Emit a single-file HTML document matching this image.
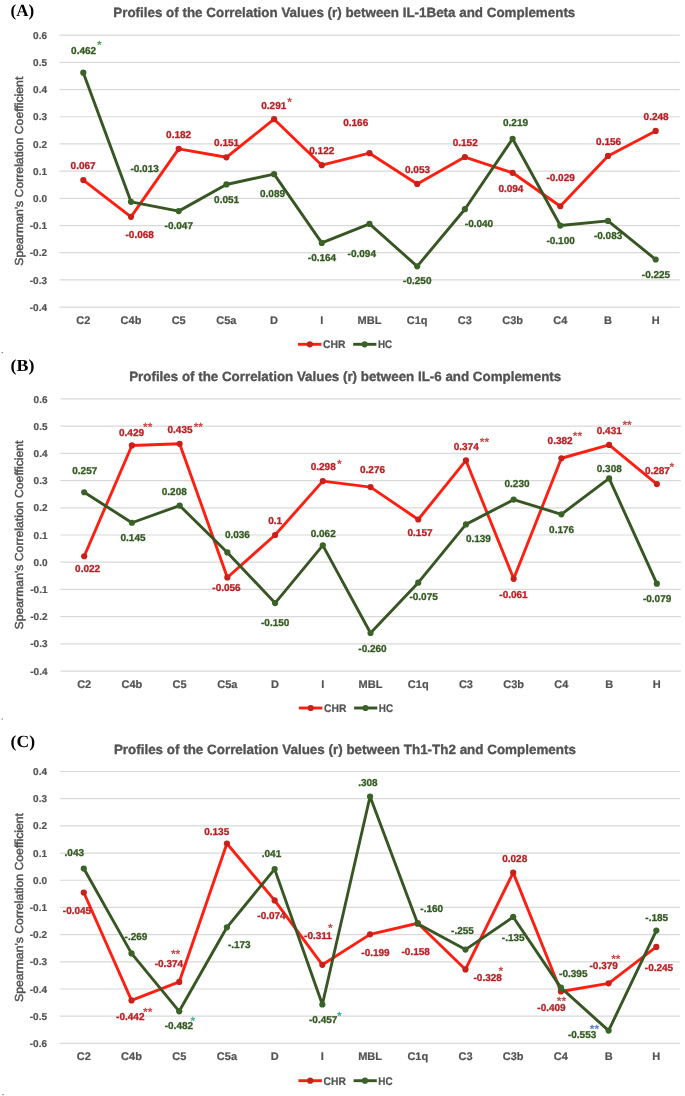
<!DOCTYPE html>
<html><head><meta charset="utf-8"><style>
html,body{margin:0;padding:0;background:#fff;}
svg{display:block;will-change:transform;}
text{font-family:"Liberation Sans",sans-serif;text-rendering:geometricPrecision;}
text.serif{font-family:"Liberation Serif",serif;}
</style></head><body>
<svg width="685" height="1096" viewBox="0 0 685 1096">
<rect width="685" height="1096" fill="#fff"/>
<text x="10.6" y="15.8" class="serif" font-weight="bold" font-size="17" fill="#000">(A)</text>
<text x="113.3" y="17.4" font-size="13.4" font-weight="bold" fill="#535353" stroke="#535353" stroke-width="0.35" textLength="462" lengthAdjust="spacingAndGlyphs">Profiles of the Correlation Values (r) between IL-1Beta and Complements</text>
<line x1="59.5" x2="679.8" y1="35.20" y2="35.20" stroke="#D9D9D9" stroke-width="1.2"/>
<text x="47" y="38.80" font-size="10" font-weight="bold" fill="#535353" stroke="#535353" stroke-width="0.2" text-anchor="end">0.6</text>
<line x1="59.5" x2="679.8" y1="62.39" y2="62.39" stroke="#D9D9D9" stroke-width="1.2"/>
<text x="47" y="65.99" font-size="10" font-weight="bold" fill="#535353" stroke="#535353" stroke-width="0.2" text-anchor="end">0.5</text>
<line x1="59.5" x2="679.8" y1="89.58" y2="89.58" stroke="#D9D9D9" stroke-width="1.2"/>
<text x="47" y="93.18" font-size="10" font-weight="bold" fill="#535353" stroke="#535353" stroke-width="0.2" text-anchor="end">0.4</text>
<line x1="59.5" x2="679.8" y1="116.77" y2="116.77" stroke="#D9D9D9" stroke-width="1.2"/>
<text x="47" y="120.37" font-size="10" font-weight="bold" fill="#535353" stroke="#535353" stroke-width="0.2" text-anchor="end">0.3</text>
<line x1="59.5" x2="679.8" y1="143.96" y2="143.96" stroke="#D9D9D9" stroke-width="1.2"/>
<text x="47" y="147.56" font-size="10" font-weight="bold" fill="#535353" stroke="#535353" stroke-width="0.2" text-anchor="end">0.2</text>
<line x1="59.5" x2="679.8" y1="171.15" y2="171.15" stroke="#D9D9D9" stroke-width="1.2"/>
<text x="47" y="174.75" font-size="10" font-weight="bold" fill="#535353" stroke="#535353" stroke-width="0.2" text-anchor="end">0.1</text>
<line x1="59.5" x2="679.8" y1="198.34" y2="198.34" stroke="#D9D9D9" stroke-width="1.2"/>
<text x="47" y="201.94" font-size="10" font-weight="bold" fill="#535353" stroke="#535353" stroke-width="0.2" text-anchor="end">0.0</text>
<line x1="59.5" x2="679.8" y1="225.53" y2="225.53" stroke="#D9D9D9" stroke-width="1.2"/>
<text x="47" y="229.13" font-size="10" font-weight="bold" fill="#535353" stroke="#535353" stroke-width="0.2" text-anchor="end">-0.1</text>
<line x1="59.5" x2="679.8" y1="252.72" y2="252.72" stroke="#D9D9D9" stroke-width="1.2"/>
<text x="47" y="256.32" font-size="10" font-weight="bold" fill="#535353" stroke="#535353" stroke-width="0.2" text-anchor="end">-0.2</text>
<line x1="59.5" x2="679.8" y1="279.91" y2="279.91" stroke="#D9D9D9" stroke-width="1.2"/>
<text x="47" y="283.51" font-size="10" font-weight="bold" fill="#535353" stroke="#535353" stroke-width="0.2" text-anchor="end">-0.3</text>
<line x1="59.5" x2="679.8" y1="307.10" y2="307.10" stroke="#D9D9D9" stroke-width="1.2"/>
<text x="47" y="310.70" font-size="10" font-weight="bold" fill="#535353" stroke="#535353" stroke-width="0.2" text-anchor="end">-0.4</text>
<text transform="translate(22.7,171.2) rotate(-90)" font-size="11.6" fill="#535353" stroke="#535353" stroke-width="0.45" text-anchor="middle" textLength="189" lengthAdjust="spacingAndGlyphs">Spearman's Correlation Coefficient</text>
<text x="83.30" y="323.7" font-size="11" font-weight="bold" fill="#535353" stroke="#535353" stroke-width="0.2" text-anchor="middle">C2</text>
<text x="131.00" y="323.7" font-size="11" font-weight="bold" fill="#535353" stroke="#535353" stroke-width="0.2" text-anchor="middle">C4b</text>
<text x="178.70" y="323.7" font-size="11" font-weight="bold" fill="#535353" stroke="#535353" stroke-width="0.2" text-anchor="middle">C5</text>
<text x="226.40" y="323.7" font-size="11" font-weight="bold" fill="#535353" stroke="#535353" stroke-width="0.2" text-anchor="middle">C5a</text>
<text x="274.10" y="323.7" font-size="11" font-weight="bold" fill="#535353" stroke="#535353" stroke-width="0.2" text-anchor="middle">D</text>
<text x="321.80" y="323.7" font-size="11" font-weight="bold" fill="#535353" stroke="#535353" stroke-width="0.2" text-anchor="middle">I</text>
<text x="369.50" y="323.7" font-size="11" font-weight="bold" fill="#535353" stroke="#535353" stroke-width="0.2" text-anchor="middle">MBL</text>
<text x="417.20" y="323.7" font-size="11" font-weight="bold" fill="#535353" stroke="#535353" stroke-width="0.2" text-anchor="middle">C1q</text>
<text x="464.90" y="323.7" font-size="11" font-weight="bold" fill="#535353" stroke="#535353" stroke-width="0.2" text-anchor="middle">C3</text>
<text x="512.60" y="323.7" font-size="11" font-weight="bold" fill="#535353" stroke="#535353" stroke-width="0.2" text-anchor="middle">C3b</text>
<text x="560.30" y="323.7" font-size="11" font-weight="bold" fill="#535353" stroke="#535353" stroke-width="0.2" text-anchor="middle">C4</text>
<text x="608.00" y="323.7" font-size="11" font-weight="bold" fill="#535353" stroke="#535353" stroke-width="0.2" text-anchor="middle">B</text>
<text x="655.70" y="323.7" font-size="11" font-weight="bold" fill="#535353" stroke="#535353" stroke-width="0.2" text-anchor="middle">H</text>
<polyline points="83.30,180.12 131.00,216.83 178.70,148.85 226.40,157.28 274.10,119.22 321.80,165.17 369.50,153.20 417.20,183.93 464.90,157.01 512.60,172.78 560.30,206.23 608.00,155.92 655.70,130.91" fill="none" stroke="#FF1F12" stroke-width="2.9" stroke-linejoin="round"/>
<circle cx="83.30" cy="180.12" r="3.1" fill="#C8201A"/>
<circle cx="131.00" cy="216.83" r="3.1" fill="#C8201A"/>
<circle cx="178.70" cy="148.85" r="3.1" fill="#C8201A"/>
<circle cx="226.40" cy="157.28" r="3.1" fill="#C8201A"/>
<circle cx="274.10" cy="119.22" r="3.1" fill="#C8201A"/>
<circle cx="321.80" cy="165.17" r="3.1" fill="#C8201A"/>
<circle cx="369.50" cy="153.20" r="3.1" fill="#C8201A"/>
<circle cx="417.20" cy="183.93" r="3.1" fill="#C8201A"/>
<circle cx="464.90" cy="157.01" r="3.1" fill="#C8201A"/>
<circle cx="512.60" cy="172.78" r="3.1" fill="#C8201A"/>
<circle cx="560.30" cy="206.23" r="3.1" fill="#C8201A"/>
<circle cx="608.00" cy="155.92" r="3.1" fill="#C8201A"/>
<circle cx="655.70" cy="130.91" r="3.1" fill="#C8201A"/>
<polyline points="83.30,72.72 131.00,201.87 178.70,211.12 226.40,184.47 274.10,174.14 321.80,242.93 369.50,223.90 417.20,266.31 464.90,209.22 512.60,138.79 560.30,225.53 608.00,220.91 655.70,259.52" fill="none" stroke="#375623" stroke-width="2.9" stroke-linejoin="round"/>
<circle cx="83.30" cy="72.72" r="3.1" fill="#3B6229"/>
<circle cx="131.00" cy="201.87" r="3.1" fill="#3B6229"/>
<circle cx="178.70" cy="211.12" r="3.1" fill="#3B6229"/>
<circle cx="226.40" cy="184.47" r="3.1" fill="#3B6229"/>
<circle cx="274.10" cy="174.14" r="3.1" fill="#3B6229"/>
<circle cx="321.80" cy="242.93" r="3.1" fill="#3B6229"/>
<circle cx="369.50" cy="223.90" r="3.1" fill="#3B6229"/>
<circle cx="417.20" cy="266.31" r="3.1" fill="#3B6229"/>
<circle cx="464.90" cy="209.22" r="3.1" fill="#3B6229"/>
<circle cx="512.60" cy="138.79" r="3.1" fill="#3B6229"/>
<circle cx="560.30" cy="225.53" r="3.1" fill="#3B6229"/>
<circle cx="608.00" cy="220.91" r="3.1" fill="#3B6229"/>
<circle cx="655.70" cy="259.52" r="3.1" fill="#3B6229"/>
<text x="83.6" y="53.9" font-size="10" font-weight="bold" fill="#335A22" stroke="#335A22" stroke-width="0.3" text-anchor="middle">0.462</text>
<text x="83.1" y="169.3" font-size="10" font-weight="bold" fill="#B81F24" stroke="#B81F24" stroke-width="0.3" text-anchor="middle">0.067</text>
<text x="144.6" y="172.2" font-size="10" font-weight="bold" fill="#335A22" stroke="#335A22" stroke-width="0.3" text-anchor="middle">-0.013</text>
<text x="178.6" y="138.0" font-size="10" font-weight="bold" fill="#B81F24" stroke="#B81F24" stroke-width="0.3" text-anchor="middle">0.182</text>
<text x="226.6" y="146.2" font-size="10" font-weight="bold" fill="#B81F24" stroke="#B81F24" stroke-width="0.3" text-anchor="middle">0.151</text>
<text x="273.8" y="108.7" font-size="10" font-weight="bold" fill="#B81F24" stroke="#B81F24" stroke-width="0.3" text-anchor="middle">0.291</text>
<text x="321.8" y="154.1" font-size="10" font-weight="bold" fill="#B81F24" stroke="#B81F24" stroke-width="0.3" text-anchor="middle">0.122</text>
<text x="355.7" y="125.8" font-size="10" font-weight="bold" fill="#B81F24" stroke="#B81F24" stroke-width="0.3" text-anchor="middle">0.166</text>
<text x="417.5" y="172.5" font-size="10" font-weight="bold" fill="#B81F24" stroke="#B81F24" stroke-width="0.3" text-anchor="middle">0.053</text>
<text x="465.2" y="146.1" font-size="10" font-weight="bold" fill="#B81F24" stroke="#B81F24" stroke-width="0.3" text-anchor="middle">0.152</text>
<text x="515.5" y="125.5" font-size="10" font-weight="bold" fill="#335A22" stroke="#335A22" stroke-width="0.3" text-anchor="middle">0.219</text>
<text x="510.9" y="191.8" font-size="10" font-weight="bold" fill="#B81F24" stroke="#B81F24" stroke-width="0.3" text-anchor="middle">0.094</text>
<text x="560.6" y="181.0" font-size="10" font-weight="bold" fill="#B81F24" stroke="#B81F24" stroke-width="0.3" text-anchor="middle">-0.029</text>
<text x="608.6" y="144.9" font-size="10" font-weight="bold" fill="#B81F24" stroke="#B81F24" stroke-width="0.3" text-anchor="middle">0.156</text>
<text x="656.1" y="119.7" font-size="10" font-weight="bold" fill="#B81F24" stroke="#B81F24" stroke-width="0.3" text-anchor="middle">0.248</text>
<text x="139.7" y="237.6" font-size="10" font-weight="bold" fill="#B81F24" stroke="#B81F24" stroke-width="0.3" text-anchor="middle">-0.068</text>
<text x="178.8" y="228.8" font-size="10" font-weight="bold" fill="#335A22" stroke="#335A22" stroke-width="0.3" text-anchor="middle">-0.047</text>
<text x="226.6" y="202.6" font-size="10" font-weight="bold" fill="#335A22" stroke="#335A22" stroke-width="0.3" text-anchor="middle">0.051</text>
<text x="272.5" y="197.3" font-size="10" font-weight="bold" fill="#335A22" stroke="#335A22" stroke-width="0.3" text-anchor="middle">0.089</text>
<text x="322.0" y="261.0" font-size="10" font-weight="bold" fill="#335A22" stroke="#335A22" stroke-width="0.3" text-anchor="middle">-0.164</text>
<text x="361.8" y="257.4" font-size="10" font-weight="bold" fill="#335A22" stroke="#335A22" stroke-width="0.3" text-anchor="middle">-0.094</text>
<text x="417.3" y="284.3" font-size="10" font-weight="bold" fill="#335A22" stroke="#335A22" stroke-width="0.3" text-anchor="middle">-0.250</text>
<text x="479.0" y="227.4" font-size="10" font-weight="bold" fill="#335A22" stroke="#335A22" stroke-width="0.3" text-anchor="middle">-0.040</text>
<text x="560.6" y="243.6" font-size="10" font-weight="bold" fill="#335A22" stroke="#335A22" stroke-width="0.3" text-anchor="middle">-0.100</text>
<text x="608.1" y="239.0" font-size="10" font-weight="bold" fill="#335A22" stroke="#335A22" stroke-width="0.3" text-anchor="middle">-0.083</text>
<text x="656.0" y="277.7" font-size="10" font-weight="bold" fill="#335A22" stroke="#335A22" stroke-width="0.3" text-anchor="middle">-0.225</text>
<text x="97.0" y="48.8" font-size="12" font-weight="bold" fill="#52A852">*</text>
<text x="287.2" y="105.7" font-size="12" font-weight="bold" fill="#C84A4A">*</text>
<line x1="298.0" x2="321.5" y1="344.3" y2="344.3" stroke="#FF1F12" stroke-width="2.9"/>
<circle cx="309.8" cy="344.3" r="3.1" fill="#C8201A"/>
<text x="323.1" y="348.40000000000003" font-size="11" font-weight="bold" fill="#535353" stroke="#535353" stroke-width="0.2" textLength="22.4" lengthAdjust="spacingAndGlyphs">CHR</text>
<line x1="353.2" x2="376.4" y1="344.3" y2="344.3" stroke="#375623" stroke-width="2.9"/>
<circle cx="364.6" cy="344.3" r="3.1" fill="#3B6229"/>
<text x="377.9" y="348.40000000000003" font-size="11" font-weight="bold" fill="#535353" stroke="#535353" stroke-width="0.2" textLength="14.3" lengthAdjust="spacingAndGlyphs">HC</text>
<text x="10.6" y="371.3" class="serif" font-weight="bold" font-size="17" fill="#000" textLength="23.8" lengthAdjust="spacingAndGlyphs">(B)</text>
<text x="129.2" y="380.6" font-size="13.4" font-weight="bold" fill="#535353" stroke="#535353" stroke-width="0.35" textLength="432" lengthAdjust="spacingAndGlyphs">Profiles of the Correlation Values (r) between IL-6 and Complements</text>
<line x1="60.5" x2="680.8" y1="398.90" y2="398.90" stroke="#D9D9D9" stroke-width="1.2"/>
<text x="47.5" y="402.50" font-size="10" font-weight="bold" fill="#535353" stroke="#535353" stroke-width="0.2" text-anchor="end">0.6</text>
<line x1="60.5" x2="680.8" y1="426.12" y2="426.12" stroke="#D9D9D9" stroke-width="1.2"/>
<text x="47.5" y="429.72" font-size="10" font-weight="bold" fill="#535353" stroke="#535353" stroke-width="0.2" text-anchor="end">0.5</text>
<line x1="60.5" x2="680.8" y1="453.34" y2="453.34" stroke="#D9D9D9" stroke-width="1.2"/>
<text x="47.5" y="456.94" font-size="10" font-weight="bold" fill="#535353" stroke="#535353" stroke-width="0.2" text-anchor="end">0.4</text>
<line x1="60.5" x2="680.8" y1="480.56" y2="480.56" stroke="#D9D9D9" stroke-width="1.2"/>
<text x="47.5" y="484.16" font-size="10" font-weight="bold" fill="#535353" stroke="#535353" stroke-width="0.2" text-anchor="end">0.3</text>
<line x1="60.5" x2="680.8" y1="507.78" y2="507.78" stroke="#D9D9D9" stroke-width="1.2"/>
<text x="47.5" y="511.38" font-size="10" font-weight="bold" fill="#535353" stroke="#535353" stroke-width="0.2" text-anchor="end">0.2</text>
<line x1="60.5" x2="680.8" y1="535.00" y2="535.00" stroke="#D9D9D9" stroke-width="1.2"/>
<text x="47.5" y="538.60" font-size="10" font-weight="bold" fill="#535353" stroke="#535353" stroke-width="0.2" text-anchor="end">0.1</text>
<line x1="60.5" x2="680.8" y1="562.22" y2="562.22" stroke="#D9D9D9" stroke-width="1.2"/>
<text x="47.5" y="565.82" font-size="10" font-weight="bold" fill="#535353" stroke="#535353" stroke-width="0.2" text-anchor="end">0.0</text>
<line x1="60.5" x2="680.8" y1="589.44" y2="589.44" stroke="#D9D9D9" stroke-width="1.2"/>
<text x="47.5" y="593.04" font-size="10" font-weight="bold" fill="#535353" stroke="#535353" stroke-width="0.2" text-anchor="end">-0.1</text>
<line x1="60.5" x2="680.8" y1="616.66" y2="616.66" stroke="#D9D9D9" stroke-width="1.2"/>
<text x="47.5" y="620.26" font-size="10" font-weight="bold" fill="#535353" stroke="#535353" stroke-width="0.2" text-anchor="end">-0.2</text>
<line x1="60.5" x2="680.8" y1="643.88" y2="643.88" stroke="#D9D9D9" stroke-width="1.2"/>
<text x="47.5" y="647.48" font-size="10" font-weight="bold" fill="#535353" stroke="#535353" stroke-width="0.2" text-anchor="end">-0.3</text>
<line x1="60.5" x2="680.8" y1="671.10" y2="671.10" stroke="#D9D9D9" stroke-width="1.2"/>
<text x="47.5" y="674.70" font-size="10" font-weight="bold" fill="#535353" stroke="#535353" stroke-width="0.2" text-anchor="end">-0.4</text>
<text transform="translate(22.9,535.0) rotate(-90)" font-size="11.6" fill="#535353" stroke="#535353" stroke-width="0.45" text-anchor="middle" textLength="189" lengthAdjust="spacingAndGlyphs">Spearman's Correlation Coefficient</text>
<text x="84.20" y="687.6" font-size="11" font-weight="bold" fill="#535353" stroke="#535353" stroke-width="0.2" text-anchor="middle">C2</text>
<text x="131.92" y="687.6" font-size="11" font-weight="bold" fill="#535353" stroke="#535353" stroke-width="0.2" text-anchor="middle">C4b</text>
<text x="179.64" y="687.6" font-size="11" font-weight="bold" fill="#535353" stroke="#535353" stroke-width="0.2" text-anchor="middle">C5</text>
<text x="227.36" y="687.6" font-size="11" font-weight="bold" fill="#535353" stroke="#535353" stroke-width="0.2" text-anchor="middle">C5a</text>
<text x="275.08" y="687.6" font-size="11" font-weight="bold" fill="#535353" stroke="#535353" stroke-width="0.2" text-anchor="middle">D</text>
<text x="322.80" y="687.6" font-size="11" font-weight="bold" fill="#535353" stroke="#535353" stroke-width="0.2" text-anchor="middle">I</text>
<text x="370.52" y="687.6" font-size="11" font-weight="bold" fill="#535353" stroke="#535353" stroke-width="0.2" text-anchor="middle">MBL</text>
<text x="418.24" y="687.6" font-size="11" font-weight="bold" fill="#535353" stroke="#535353" stroke-width="0.2" text-anchor="middle">C1q</text>
<text x="465.96" y="687.6" font-size="11" font-weight="bold" fill="#535353" stroke="#535353" stroke-width="0.2" text-anchor="middle">C3</text>
<text x="513.68" y="687.6" font-size="11" font-weight="bold" fill="#535353" stroke="#535353" stroke-width="0.2" text-anchor="middle">C3b</text>
<text x="561.40" y="687.6" font-size="11" font-weight="bold" fill="#535353" stroke="#535353" stroke-width="0.2" text-anchor="middle">C4</text>
<text x="609.12" y="687.6" font-size="11" font-weight="bold" fill="#535353" stroke="#535353" stroke-width="0.2" text-anchor="middle">B</text>
<text x="656.84" y="687.6" font-size="11" font-weight="bold" fill="#535353" stroke="#535353" stroke-width="0.2" text-anchor="middle">H</text>
<polyline points="84.20,556.23 131.92,445.45 179.64,443.81 227.36,577.46 275.08,535.00 322.80,481.10 370.52,487.09 418.24,519.48 465.96,460.42 513.68,578.82 561.40,458.24 609.12,444.90 656.84,484.10" fill="none" stroke="#FF1F12" stroke-width="2.9" stroke-linejoin="round"/>
<circle cx="84.20" cy="556.23" r="3.1" fill="#C8201A"/>
<circle cx="131.92" cy="445.45" r="3.1" fill="#C8201A"/>
<circle cx="179.64" cy="443.81" r="3.1" fill="#C8201A"/>
<circle cx="227.36" cy="577.46" r="3.1" fill="#C8201A"/>
<circle cx="275.08" cy="535.00" r="3.1" fill="#C8201A"/>
<circle cx="322.80" cy="481.10" r="3.1" fill="#C8201A"/>
<circle cx="370.52" cy="487.09" r="3.1" fill="#C8201A"/>
<circle cx="418.24" cy="519.48" r="3.1" fill="#C8201A"/>
<circle cx="465.96" cy="460.42" r="3.1" fill="#C8201A"/>
<circle cx="513.68" cy="578.82" r="3.1" fill="#C8201A"/>
<circle cx="561.40" cy="458.24" r="3.1" fill="#C8201A"/>
<circle cx="609.12" cy="444.90" r="3.1" fill="#C8201A"/>
<circle cx="656.84" cy="484.10" r="3.1" fill="#C8201A"/>
<polyline points="84.20,492.26 131.92,522.75 179.64,505.60 227.36,552.42 275.08,603.05 322.80,545.34 370.52,632.99 418.24,582.63 465.96,524.38 513.68,499.61 561.40,514.31 609.12,478.38 656.84,583.72" fill="none" stroke="#375623" stroke-width="2.9" stroke-linejoin="round"/>
<circle cx="84.20" cy="492.26" r="3.1" fill="#3B6229"/>
<circle cx="131.92" cy="522.75" r="3.1" fill="#3B6229"/>
<circle cx="179.64" cy="505.60" r="3.1" fill="#3B6229"/>
<circle cx="227.36" cy="552.42" r="3.1" fill="#3B6229"/>
<circle cx="275.08" cy="603.05" r="3.1" fill="#3B6229"/>
<circle cx="322.80" cy="545.34" r="3.1" fill="#3B6229"/>
<circle cx="370.52" cy="632.99" r="3.1" fill="#3B6229"/>
<circle cx="418.24" cy="582.63" r="3.1" fill="#3B6229"/>
<circle cx="465.96" cy="524.38" r="3.1" fill="#3B6229"/>
<circle cx="513.68" cy="499.61" r="3.1" fill="#3B6229"/>
<circle cx="561.40" cy="514.31" r="3.1" fill="#3B6229"/>
<circle cx="609.12" cy="478.38" r="3.1" fill="#3B6229"/>
<circle cx="656.84" cy="583.72" r="3.1" fill="#3B6229"/>
<text x="131.5" y="435.8" font-size="10" font-weight="bold" fill="#B81F24" stroke="#B81F24" stroke-width="0.3" text-anchor="middle">0.429</text>
<text x="180.0" y="432.9" font-size="10" font-weight="bold" fill="#B81F24" stroke="#B81F24" stroke-width="0.3" text-anchor="middle">0.435</text>
<text x="84.8" y="474.1" font-size="10" font-weight="bold" fill="#335A22" stroke="#335A22" stroke-width="0.3" text-anchor="middle">0.257</text>
<text x="174.3" y="495.1" font-size="10" font-weight="bold" fill="#335A22" stroke="#335A22" stroke-width="0.3" text-anchor="middle">0.208</text>
<text x="133.0" y="541.0" font-size="10" font-weight="bold" fill="#335A22" stroke="#335A22" stroke-width="0.3" text-anchor="middle">0.145</text>
<text x="87.6" y="572.0" font-size="10" font-weight="bold" fill="#B81F24" stroke="#B81F24" stroke-width="0.3" text-anchor="middle">0.022</text>
<text x="226.5" y="591.3" font-size="10" font-weight="bold" fill="#B81F24" stroke="#B81F24" stroke-width="0.3" text-anchor="middle">-0.056</text>
<text x="237.4" y="538.3" font-size="10" font-weight="bold" fill="#335A22" stroke="#335A22" stroke-width="0.3" text-anchor="middle">0.036</text>
<text x="323.2" y="470.3" font-size="10" font-weight="bold" fill="#B81F24" stroke="#B81F24" stroke-width="0.3" text-anchor="middle">0.298</text>
<text x="372.5" y="472.8" font-size="10" font-weight="bold" fill="#B81F24" stroke="#B81F24" stroke-width="0.3" text-anchor="middle">0.276</text>
<text x="275.1" y="524.0" font-size="10" font-weight="bold" fill="#B81F24" stroke="#B81F24" stroke-width="0.3" text-anchor="middle">0.1</text>
<text x="323.2" y="536.6" font-size="10" font-weight="bold" fill="#335A22" stroke="#335A22" stroke-width="0.3" text-anchor="middle">0.062</text>
<text x="420.0" y="536.2" font-size="10" font-weight="bold" fill="#B81F24" stroke="#B81F24" stroke-width="0.3" text-anchor="middle">0.157</text>
<text x="275.2" y="625.8" font-size="10" font-weight="bold" fill="#335A22" stroke="#335A22" stroke-width="0.3" text-anchor="middle">-0.150</text>
<text x="372.5" y="652.1" font-size="10" font-weight="bold" fill="#335A22" stroke="#335A22" stroke-width="0.3" text-anchor="middle">-0.260</text>
<text x="423.6" y="600.3" font-size="10" font-weight="bold" fill="#335A22" stroke="#335A22" stroke-width="0.3" text-anchor="middle">-0.075</text>
<text x="466.2" y="449.6" font-size="10" font-weight="bold" fill="#B81F24" stroke="#B81F24" stroke-width="0.3" text-anchor="middle">0.374</text>
<text x="560.1" y="444.0" font-size="10" font-weight="bold" fill="#B81F24" stroke="#B81F24" stroke-width="0.3" text-anchor="middle">0.382</text>
<text x="609.3" y="433.9" font-size="10" font-weight="bold" fill="#B81F24" stroke="#B81F24" stroke-width="0.3" text-anchor="middle">0.431</text>
<text x="657.4" y="473.8" font-size="10" font-weight="bold" fill="#B81F24" stroke="#B81F24" stroke-width="0.3" text-anchor="middle">0.287</text>
<text x="517.0" y="486.8" font-size="10" font-weight="bold" fill="#335A22" stroke="#335A22" stroke-width="0.3" text-anchor="middle">0.230</text>
<text x="609.3" y="471.9" font-size="10" font-weight="bold" fill="#335A22" stroke="#335A22" stroke-width="0.3" text-anchor="middle">0.308</text>
<text x="561.6" y="532.5" font-size="10" font-weight="bold" fill="#335A22" stroke="#335A22" stroke-width="0.3" text-anchor="middle">0.176</text>
<text x="478.4" y="542.3" font-size="10" font-weight="bold" fill="#335A22" stroke="#335A22" stroke-width="0.3" text-anchor="middle">0.139</text>
<text x="513.5" y="598.2" font-size="10" font-weight="bold" fill="#B81F24" stroke="#B81F24" stroke-width="0.3" text-anchor="middle">-0.061</text>
<text x="657.1" y="601.9" font-size="10" font-weight="bold" fill="#335A22" stroke="#335A22" stroke-width="0.3" text-anchor="middle">-0.079</text>
<text x="143.1" y="431.4" font-size="12" font-weight="bold" fill="#C84A4A">**</text>
<text x="193.7" y="430.5" font-size="12" font-weight="bold" fill="#C84A4A">**</text>
<text x="337.1" y="467.8" font-size="12" font-weight="bold" fill="#C84A4A">*</text>
<text x="479.8" y="445.8" font-size="12" font-weight="bold" fill="#C84A4A">**</text>
<text x="572.8" y="439.8" font-size="12" font-weight="bold" fill="#C84A4A">**</text>
<text x="622.4" y="429.4" font-size="12" font-weight="bold" fill="#C84A4A">**</text>
<text x="669.6" y="471.1" font-size="12" font-weight="bold" fill="#C84A4A">*</text>
<line x1="298.9" x2="322.4" y1="708.0" y2="708.0" stroke="#FF1F12" stroke-width="2.9"/>
<circle cx="310.7" cy="708.0" r="3.1" fill="#C8201A"/>
<text x="324.0" y="712.1" font-size="11" font-weight="bold" fill="#535353" stroke="#535353" stroke-width="0.2" textLength="22.4" lengthAdjust="spacingAndGlyphs">CHR</text>
<line x1="354.09999999999997" x2="377.29999999999995" y1="708.0" y2="708.0" stroke="#375623" stroke-width="2.9"/>
<circle cx="365.5" cy="708.0" r="3.1" fill="#3B6229"/>
<text x="378.79999999999995" y="712.1" font-size="11" font-weight="bold" fill="#535353" stroke="#535353" stroke-width="0.2" textLength="14.3" lengthAdjust="spacingAndGlyphs">HC</text>
<text x="10.6" y="747.0" class="serif" font-weight="bold" font-size="17" fill="#000" textLength="24.4" lengthAdjust="spacingAndGlyphs">(C)</text>
<text x="113.9" y="753.7" font-size="13.4" font-weight="bold" fill="#535353" stroke="#535353" stroke-width="0.35" textLength="462" lengthAdjust="spacingAndGlyphs">Profiles of the Correlation Values (r) between Th1-Th2 and Complements</text>
<line x1="60.0" x2="680.0" y1="771.50" y2="771.50" stroke="#D9D9D9" stroke-width="1.2"/>
<text x="47.0" y="775.10" font-size="10" font-weight="bold" fill="#535353" stroke="#535353" stroke-width="0.2" text-anchor="end">0.4</text>
<line x1="60.0" x2="680.0" y1="798.69" y2="798.69" stroke="#D9D9D9" stroke-width="1.2"/>
<text x="47.0" y="802.29" font-size="10" font-weight="bold" fill="#535353" stroke="#535353" stroke-width="0.2" text-anchor="end">0.3</text>
<line x1="60.0" x2="680.0" y1="825.88" y2="825.88" stroke="#D9D9D9" stroke-width="1.2"/>
<text x="47.0" y="829.48" font-size="10" font-weight="bold" fill="#535353" stroke="#535353" stroke-width="0.2" text-anchor="end">0.2</text>
<line x1="60.0" x2="680.0" y1="853.07" y2="853.07" stroke="#D9D9D9" stroke-width="1.2"/>
<text x="47.0" y="856.67" font-size="10" font-weight="bold" fill="#535353" stroke="#535353" stroke-width="0.2" text-anchor="end">0.1</text>
<line x1="60.0" x2="680.0" y1="880.26" y2="880.26" stroke="#D9D9D9" stroke-width="1.2"/>
<text x="47.0" y="883.86" font-size="10" font-weight="bold" fill="#535353" stroke="#535353" stroke-width="0.2" text-anchor="end">0.0</text>
<line x1="60.0" x2="680.0" y1="907.45" y2="907.45" stroke="#D9D9D9" stroke-width="1.2"/>
<text x="47.0" y="911.05" font-size="10" font-weight="bold" fill="#535353" stroke="#535353" stroke-width="0.2" text-anchor="end">-0.1</text>
<line x1="60.0" x2="680.0" y1="934.64" y2="934.64" stroke="#D9D9D9" stroke-width="1.2"/>
<text x="47.0" y="938.24" font-size="10" font-weight="bold" fill="#535353" stroke="#535353" stroke-width="0.2" text-anchor="end">-0.2</text>
<line x1="60.0" x2="680.0" y1="961.83" y2="961.83" stroke="#D9D9D9" stroke-width="1.2"/>
<text x="47.0" y="965.43" font-size="10" font-weight="bold" fill="#535353" stroke="#535353" stroke-width="0.2" text-anchor="end">-0.3</text>
<line x1="60.0" x2="680.0" y1="989.02" y2="989.02" stroke="#D9D9D9" stroke-width="1.2"/>
<text x="47.0" y="992.62" font-size="10" font-weight="bold" fill="#535353" stroke="#535353" stroke-width="0.2" text-anchor="end">-0.4</text>
<line x1="60.0" x2="680.0" y1="1016.21" y2="1016.21" stroke="#D9D9D9" stroke-width="1.2"/>
<text x="47.0" y="1019.81" font-size="10" font-weight="bold" fill="#535353" stroke="#535353" stroke-width="0.2" text-anchor="end">-0.5</text>
<line x1="60.0" x2="680.0" y1="1043.40" y2="1043.40" stroke="#D9D9D9" stroke-width="1.2"/>
<text x="47.0" y="1047.00" font-size="10" font-weight="bold" fill="#535353" stroke="#535353" stroke-width="0.2" text-anchor="end">-0.6</text>
<text transform="translate(22.7,907.5) rotate(-90)" font-size="11.6" fill="#535353" stroke="#535353" stroke-width="0.45" text-anchor="middle" textLength="189" lengthAdjust="spacingAndGlyphs">Spearman's Correlation Coefficient</text>
<text x="83.80" y="1059.8" font-size="11" font-weight="bold" fill="#535353" stroke="#535353" stroke-width="0.2" text-anchor="middle">C2</text>
<text x="131.51" y="1059.8" font-size="11" font-weight="bold" fill="#535353" stroke="#535353" stroke-width="0.2" text-anchor="middle">C4b</text>
<text x="179.22" y="1059.8" font-size="11" font-weight="bold" fill="#535353" stroke="#535353" stroke-width="0.2" text-anchor="middle">C5</text>
<text x="226.93" y="1059.8" font-size="11" font-weight="bold" fill="#535353" stroke="#535353" stroke-width="0.2" text-anchor="middle">C5a</text>
<text x="274.64" y="1059.8" font-size="11" font-weight="bold" fill="#535353" stroke="#535353" stroke-width="0.2" text-anchor="middle">D</text>
<text x="322.35" y="1059.8" font-size="11" font-weight="bold" fill="#535353" stroke="#535353" stroke-width="0.2" text-anchor="middle">I</text>
<text x="370.06" y="1059.8" font-size="11" font-weight="bold" fill="#535353" stroke="#535353" stroke-width="0.2" text-anchor="middle">MBL</text>
<text x="417.77" y="1059.8" font-size="11" font-weight="bold" fill="#535353" stroke="#535353" stroke-width="0.2" text-anchor="middle">C1q</text>
<text x="465.48" y="1059.8" font-size="11" font-weight="bold" fill="#535353" stroke="#535353" stroke-width="0.2" text-anchor="middle">C3</text>
<text x="513.19" y="1059.8" font-size="11" font-weight="bold" fill="#535353" stroke="#535353" stroke-width="0.2" text-anchor="middle">C3b</text>
<text x="560.90" y="1059.8" font-size="11" font-weight="bold" fill="#535353" stroke="#535353" stroke-width="0.2" text-anchor="middle">C4</text>
<text x="608.61" y="1059.8" font-size="11" font-weight="bold" fill="#535353" stroke="#535353" stroke-width="0.2" text-anchor="middle">B</text>
<text x="656.32" y="1059.8" font-size="11" font-weight="bold" fill="#535353" stroke="#535353" stroke-width="0.2" text-anchor="middle">H</text>
<polyline points="83.80,892.50 131.51,1000.44 179.22,981.95 226.93,843.55 274.64,900.38 322.35,964.82 370.06,934.37 417.77,923.22 465.48,969.44 513.19,872.65 560.90,991.47 608.61,983.31 656.32,946.88" fill="none" stroke="#FF1F12" stroke-width="2.9" stroke-linejoin="round"/>
<circle cx="83.80" cy="892.50" r="3.1" fill="#C8201A"/>
<circle cx="131.51" cy="1000.44" r="3.1" fill="#C8201A"/>
<circle cx="179.22" cy="981.95" r="3.1" fill="#C8201A"/>
<circle cx="226.93" cy="843.55" r="3.1" fill="#C8201A"/>
<circle cx="274.64" cy="900.38" r="3.1" fill="#C8201A"/>
<circle cx="322.35" cy="964.82" r="3.1" fill="#C8201A"/>
<circle cx="370.06" cy="934.37" r="3.1" fill="#C8201A"/>
<circle cx="417.77" cy="923.22" r="3.1" fill="#C8201A"/>
<circle cx="465.48" cy="969.44" r="3.1" fill="#C8201A"/>
<circle cx="513.19" cy="872.65" r="3.1" fill="#C8201A"/>
<circle cx="560.90" cy="991.47" r="3.1" fill="#C8201A"/>
<circle cx="608.61" cy="983.31" r="3.1" fill="#C8201A"/>
<circle cx="656.32" cy="946.88" r="3.1" fill="#C8201A"/>
<polyline points="83.80,868.57 131.51,953.40 179.22,1011.32 226.93,927.30 274.64,869.11 322.35,1004.52 370.06,796.51 417.77,923.76 465.48,949.59 513.19,916.97 560.90,987.66 608.61,1030.62 656.32,930.56" fill="none" stroke="#375623" stroke-width="2.9" stroke-linejoin="round"/>
<circle cx="83.80" cy="868.57" r="3.1" fill="#3B6229"/>
<circle cx="131.51" cy="953.40" r="3.1" fill="#3B6229"/>
<circle cx="179.22" cy="1011.32" r="3.1" fill="#3B6229"/>
<circle cx="226.93" cy="927.30" r="3.1" fill="#3B6229"/>
<circle cx="274.64" cy="869.11" r="3.1" fill="#3B6229"/>
<circle cx="322.35" cy="1004.52" r="3.1" fill="#3B6229"/>
<circle cx="370.06" cy="796.51" r="3.1" fill="#3B6229"/>
<circle cx="417.77" cy="923.76" r="3.1" fill="#3B6229"/>
<circle cx="465.48" cy="949.59" r="3.1" fill="#3B6229"/>
<circle cx="513.19" cy="916.97" r="3.1" fill="#3B6229"/>
<circle cx="560.90" cy="987.66" r="3.1" fill="#3B6229"/>
<circle cx="608.61" cy="1030.62" r="3.1" fill="#3B6229"/>
<circle cx="656.32" cy="930.56" r="3.1" fill="#3B6229"/>
<text x="74.3" y="856.4" font-size="10" font-weight="bold" fill="#335A22" stroke="#335A22" stroke-width="0.3" text-anchor="middle">.043</text>
<text x="216.7" y="835.4" font-size="10" font-weight="bold" fill="#B81F24" stroke="#B81F24" stroke-width="0.3" text-anchor="middle">0.135</text>
<text x="77.0" y="913.9" font-size="10" font-weight="bold" fill="#B81F24" stroke="#B81F24" stroke-width="0.3" text-anchor="middle">-0.045</text>
<text x="136.0" y="939.6" font-size="10" font-weight="bold" fill="#335A22" stroke="#335A22" stroke-width="0.3" text-anchor="middle">-.269</text>
<text x="168.9" y="966.5" font-size="10" font-weight="bold" fill="#B81F24" stroke="#B81F24" stroke-width="0.3" text-anchor="middle">-0.374</text>
<text x="130.3" y="1019.9" font-size="10" font-weight="bold" fill="#B81F24" stroke="#B81F24" stroke-width="0.3" text-anchor="middle">-0.442</text>
<text x="178.9" y="1028.7" font-size="10" font-weight="bold" fill="#335A22" stroke="#335A22" stroke-width="0.3" text-anchor="middle">-0.482</text>
<text x="367.9" y="785.5" font-size="10" font-weight="bold" fill="#335A22" stroke="#335A22" stroke-width="0.3" text-anchor="middle">.308</text>
<text x="271.5" y="857.4" font-size="10" font-weight="bold" fill="#335A22" stroke="#335A22" stroke-width="0.3" text-anchor="middle">.041</text>
<text x="239.3" y="948.4" font-size="10" font-weight="bold" fill="#335A22" stroke="#335A22" stroke-width="0.3" text-anchor="middle">-.173</text>
<text x="271.5" y="919.2" font-size="10" font-weight="bold" fill="#B81F24" stroke="#B81F24" stroke-width="0.3" text-anchor="middle">-0.074</text>
<text x="318.0" y="939.3" font-size="10" font-weight="bold" fill="#B81F24" stroke="#B81F24" stroke-width="0.3" text-anchor="middle">-0.311</text>
<text x="375.5" y="955.7" font-size="10" font-weight="bold" fill="#B81F24" stroke="#B81F24" stroke-width="0.3" text-anchor="middle">-0.199</text>
<text x="415.7" y="954.6" font-size="10" font-weight="bold" fill="#B81F24" stroke="#B81F24" stroke-width="0.3" text-anchor="middle">-0.158</text>
<text x="431.7" y="911.9" font-size="10" font-weight="bold" fill="#335A22" stroke="#335A22" stroke-width="0.3" text-anchor="middle">-.160</text>
<text x="323.2" y="1023.2" font-size="10" font-weight="bold" fill="#335A22" stroke="#335A22" stroke-width="0.3" text-anchor="middle">-0.457</text>
<text x="514.7" y="861.6" font-size="10" font-weight="bold" fill="#B81F24" stroke="#B81F24" stroke-width="0.3" text-anchor="middle">0.028</text>
<text x="462.5" y="934.2" font-size="10" font-weight="bold" fill="#335A22" stroke="#335A22" stroke-width="0.3" text-anchor="middle">-.255</text>
<text x="513.2" y="940.9" font-size="10" font-weight="bold" fill="#335A22" stroke="#335A22" stroke-width="0.3" text-anchor="middle">-.135</text>
<text x="573.3" y="977.1" font-size="10" font-weight="bold" fill="#335A22" stroke="#335A22" stroke-width="0.3" text-anchor="middle">-0.395</text>
<text x="603.7" y="968.8" font-size="10" font-weight="bold" fill="#B81F24" stroke="#B81F24" stroke-width="0.3" text-anchor="middle">-0.379</text>
<text x="656.7" y="920.5" font-size="10" font-weight="bold" fill="#335A22" stroke="#335A22" stroke-width="0.3" text-anchor="middle">-.185</text>
<text x="659.0" y="970.6" font-size="10" font-weight="bold" fill="#B81F24" stroke="#B81F24" stroke-width="0.3" text-anchor="middle">-0.245</text>
<text x="487.7" y="981.0" font-size="10" font-weight="bold" fill="#B81F24" stroke="#B81F24" stroke-width="0.3" text-anchor="middle">-0.328</text>
<text x="551.5" y="1010.7" font-size="10" font-weight="bold" fill="#B81F24" stroke="#B81F24" stroke-width="0.3" text-anchor="middle">-0.409</text>
<text x="582.1" y="1037.5" font-size="10" font-weight="bold" fill="#335A22" stroke="#335A22" stroke-width="0.3" text-anchor="middle">-0.553</text>
<text x="170.9" y="958.2" font-size="12" font-weight="bold" fill="#C84A4A">**</text>
<text x="143.1" y="1015.5" font-size="12" font-weight="bold" fill="#C84A4A">**</text>
<text x="190.6" y="1024.8" font-size="12" font-weight="bold" fill="#45AE98">*</text>
<text x="328.0" y="931.8" font-size="12" font-weight="bold" fill="#C84A4A">*</text>
<text x="337.1" y="1020.1" font-size="12" font-weight="bold" fill="#45AE98">*</text>
<text x="611.2" y="962.5" font-size="12" font-weight="bold" fill="#C84A4A">**</text>
<text x="498.4" y="974.6" font-size="12" font-weight="bold" fill="#C84A4A">*</text>
<text x="556.8" y="1004.8" font-size="12" font-weight="bold" fill="#C84A4A">**</text>
<text x="589.8" y="1032.7" font-size="12" font-weight="bold" fill="#5A82C0">**</text>
<line x1="298.4" x2="321.9" y1="1080.7" y2="1080.7" stroke="#FF1F12" stroke-width="2.9"/>
<circle cx="310.2" cy="1080.7" r="3.1" fill="#C8201A"/>
<text x="323.5" y="1084.8" font-size="11" font-weight="bold" fill="#535353" stroke="#535353" stroke-width="0.2" textLength="22.4" lengthAdjust="spacingAndGlyphs">CHR</text>
<line x1="353.59999999999997" x2="376.79999999999995" y1="1080.7" y2="1080.7" stroke="#375623" stroke-width="2.9"/>
<circle cx="365.0" cy="1080.7" r="3.1" fill="#3B6229"/>
<text x="378.29999999999995" y="1084.8" font-size="11" font-weight="bold" fill="#535353" stroke="#535353" stroke-width="0.2" textLength="14.3" lengthAdjust="spacingAndGlyphs">HC</text>
<rect x="1.5" y="352" width="1.5" height="1.2" fill="#8a8a8a"/>
<rect x="1.5" y="718.5" width="1.5" height="1.2" fill="#8a8a8a"/>
<rect x="2.2" y="1094" width="1.6" height="1.2" fill="#8a8a8a"/>
</svg></body></html>
